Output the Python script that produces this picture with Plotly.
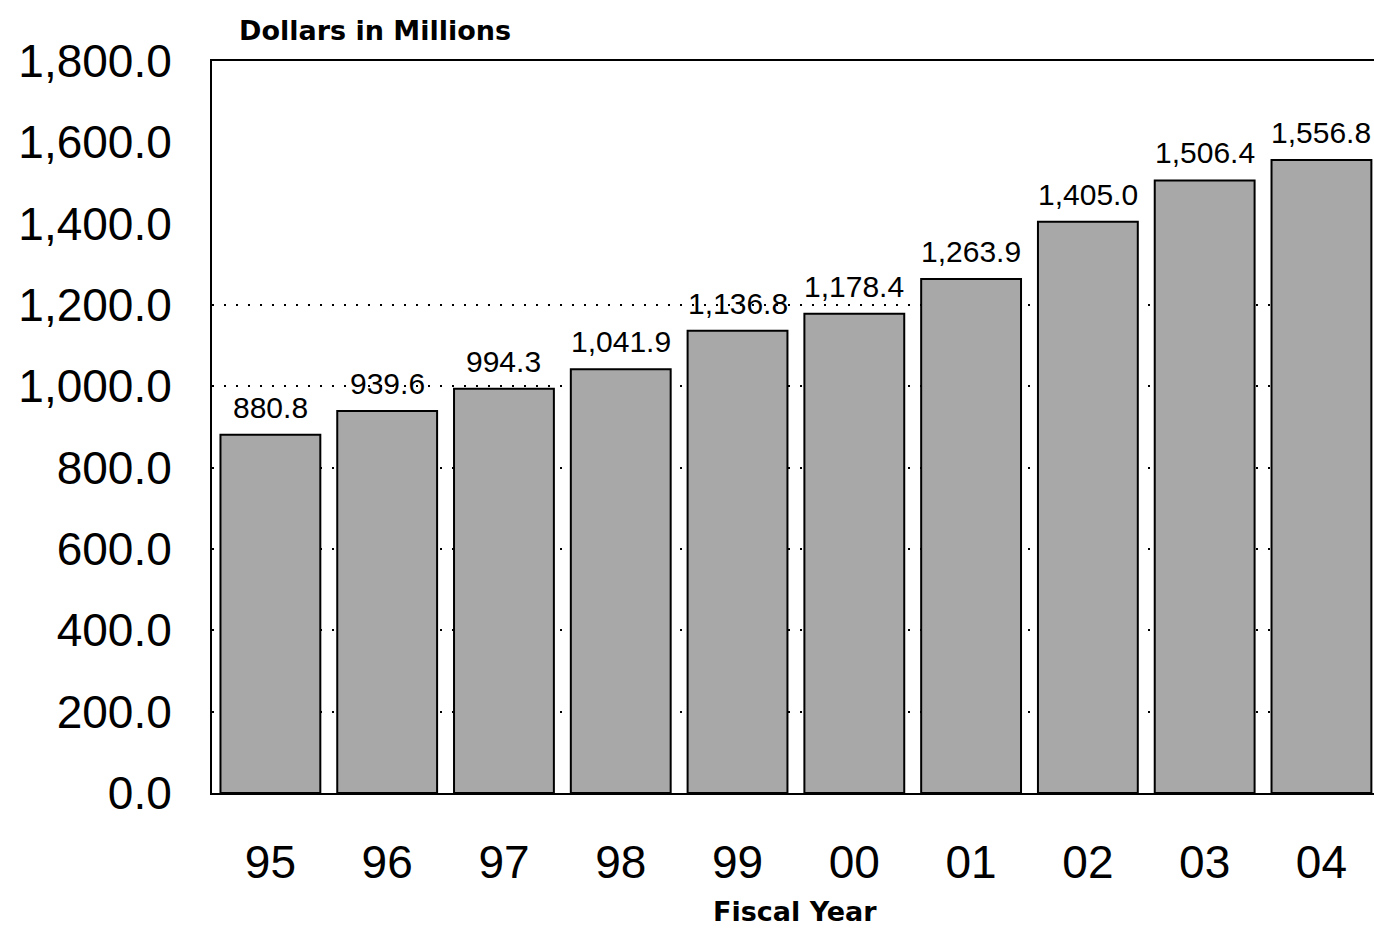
import plotly.graph_objects as go

years = ["95", "96", "97", "98", "99", "00", "01", "02", "03", "04"]
values = [880.8, 939.6, 994.3, 1041.9, 1136.8, 1178.4, 1263.9, 1405.0, 1506.4, 1556.8]
y_ticks = [0, 200, 400, 600, 800, 1000, 1200, 1400, 1600, 1800]
grid_ticks = [200, 400, 600, 800, 1000, 1200]
y_title = "Dollars in Millions"
x_title = "Fiscal Year"

W, H = 1374, 930
ml, mr, mt, mb = 212, 0, 61, 137
pw, ph = W - ml - mr, H - mt - mb

fig = go.Figure()
fig.add_trace(go.Bar(
    x=list(range(len(years))), y=values,
    marker=dict(color="#A8A8A8", line=dict(color="black", width=2)),
    width=0.855,
    hoverinfo="skip",
))

for i, v in enumerate(values):
    fig.add_annotation(
        x=i, y=v, xref="x", yref="y", text=f"{v:,.1f}",
        showarrow=False, yanchor="bottom", yshift=9,
        font=dict(family="Liberation Sans", size=30, color="black"),
    )

fig.update_layout(
    width=W, height=H,
    margin=dict(l=ml, r=mr, t=mt, b=mb, autoexpand=False),
    paper_bgcolor="white", plot_bgcolor="white",
    showlegend=False,
    font=dict(family="Liberation Sans", color="black"),
    xaxis=dict(
        tickmode="array", tickvals=list(range(len(years))), ticktext=years,
        range=[-0.5, 9.45], automargin=False,
        showline=True, linecolor="black", linewidth=2, mirror=True,
        showgrid=False, ticks="", ticklabelstandoff=28,
        tickfont=dict(family="Liberation Sans", size=46, color="black"),
    ),
    yaxis=dict(
        range=[0, 1800], tickmode="array", tickvals=y_ticks,
        ticktext=[f"{v:,.1f}" for v in y_ticks], automargin=False,
        showline=True, linecolor="black", linewidth=2,
        showgrid=False, zeroline=False, ticks="", ticklabelstandoff=29,
        tickfont=dict(family="Liberation Sans", size=46, color="black"),
    ),
    yaxis2=dict(
        range=[0, 1800], overlaying="y", side="left", tickmode="array",
        tickvals=grid_ticks, showticklabels=False, ticks="",
        showgrid=True, gridcolor="black", gridwidth=2, griddash="2px,10px",
        zeroline=False, showline=False, automargin=False,
    ),
)

# invisible trace to activate yaxis2 grid
fig.add_trace(go.Scatter(x=[0], y=[0], yaxis="y2", mode="markers",
                         marker=dict(opacity=0), hoverinfo="skip", showlegend=False))

fig.add_annotation(
    text=f"<b>{y_title}</b>", xref="paper", yref="paper",
    x=(237 - ml) / pw, y=1 + (mt - 30) / ph, xanchor="left", yanchor="middle",
    showarrow=False, font=dict(family="DejaVu Sans", size=27, color="black"),
)
fig.add_annotation(
    text=f"<b>{x_title}</b>", xref="paper", yref="paper",
    x=(795 - ml) / pw, y=-(912 - (H - mb)) / ph, xanchor="center", yanchor="middle",
    showarrow=False, font=dict(family="DejaVu Sans", size=27, color="black"),
)

fig.write_html(
    "out.html",
    config={"displayModeBar": False},
    post_script="document.body.style.margin='0';document.body.style.overflow='hidden';",
)
